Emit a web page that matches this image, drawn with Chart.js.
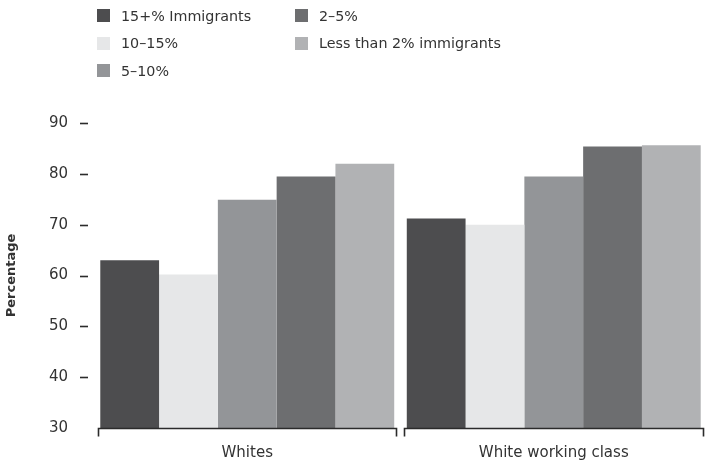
<!DOCTYPE html>
<html><head><meta charset="utf-8">
<script src="https://cdn.jsdelivr.net/npm/chart.js@4"></script>
<style>
html,body{margin:0;padding:0;background:#fff;overflow:hidden;}
#wrap{position:relative;width:709px;height:463px;}
#legend{position:absolute;left:97px;top:2px;display:grid;grid-template-columns:198px auto;grid-auto-flow:column;grid-template-rows:repeat(3,27.5px);font:14.3px "DejaVu Sans";color:#333;}
.item{display:flex;align-items:center;white-space:nowrap;}
.box{width:13px;height:13px;margin-right:11px;flex:none;}
canvas{position:absolute;left:0;top:0;}
</style>
</head><body>
<div id="wrap"><canvas id="c" width="709" height="463"></canvas><div id="legend"></div></div>
<script>
const categories = ['Whites', 'White working class'];
const seriesLabels = ['15+% Immigrants', '10–15%', '5–10%', '2–5%', 'Less than 2% immigrants'];
const s15plus = [63, 71.2];
const s10to15 = [60.2, 70];
const s5to10 = [74.9, 79.5];
const s2to5 = [79.5, 85.4];
const sLess2 = [82, 85.6];
const yTicks = [30, 40, 50, 60, 70, 80, 90];
const colors = ['#4d4d4f', '#e6e7e8', '#939598', '#6d6e70', '#b1b2b4'];
const seriesValues = [s15plus, s10to15, s5to10, s2to5, sLess2];

const legend = document.getElementById('legend');
seriesLabels.forEach((l, i) => {
  const d = document.createElement('div'); d.className = 'item';
  const b = document.createElement('span'); b.className = 'box'; b.style.background = colors[i];
  const t = document.createElement('span'); t.textContent = l;
  d.appendChild(b); d.appendChild(t); legend.appendChild(d);
});

const deco = {
  id: 'deco',
  afterDraw(chart) {
    const ctx = chart.ctx, x = chart.scales.x, y = chart.scales.y, a = chart.chartArea;
    ctx.save();
    ctx.strokeStyle = '#2b2b2b';
    ctx.lineWidth = 1.6;
    y.ticks.forEach(t => {
      if (t.value === y.min) return;
      const py = Math.round(y.getPixelForValue(t.value)) + 0.5;
      ctx.beginPath(); ctx.moveTo(a.left - 14, py); ctx.lineTo(a.left - 6, py); ctx.stroke();
    });
    const cw = (a.right - a.left) / categories.length;
    categories.forEach((c, i) => {
      const cx = x.getPixelForValue(i);
      const l = Math.round(cx - cw / 2 + 3.5) + 0.5, r = Math.round(cx + cw / 2 - 3.5) - 0.5;
      const top = Math.round(a.bottom) + 0.5;
      ctx.beginPath();
      ctx.moveTo(l, top + 8); ctx.lineTo(l, top); ctx.lineTo(r, top); ctx.lineTo(r, top + 8);
      ctx.stroke();
    });
    ctx.restore();
  }
};

new Chart(document.getElementById('c'), {
  type: 'bar',
  data: {
    labels: categories,
    datasets: seriesLabels.map((l, i) => ({
      label: l, data: seriesValues[i], backgroundColor: colors[i], borderWidth: 0,
      categoryPercentage: 0.959, barPercentage: 1
    }))
  },
  options: {
    responsive: false, animation: false, devicePixelRatio: 1,
    layout: { padding: { top: 123, right: 2, left: 0, bottom: 0 } },
    plugins: { legend: { display: false }, tooltip: { enabled: false } },
    scales: {
      x: {
        grid: { display: false, drawTicks: false }, border: { display: false },
        ticks: { color: '#333', font: { family: 'DejaVu Sans', size: 15 }, padding: 16 },
        afterFit: s => { s.height = 35; }
      },
      y: {
        min: 30, max: 90,
        grid: { display: false, drawTicks: false }, border: { display: false },
        afterBuildTicks: s => { s.ticks = yTicks.map(v => ({ value: v })); },
        ticks: { color: '#333', font: { family: 'DejaVu Sans', size: 15 }, padding: 26 },
        title: { display: true, text: 'Percentage', color: '#333', font: { family: 'DejaVu Sans', size: 13, weight: 'bold' }, padding: { top: 4, bottom: 0 } },
        afterFit: s => { s.width = 94; }
      }
    }
  },
  plugins: [deco]
});
</script>
</body></html>
